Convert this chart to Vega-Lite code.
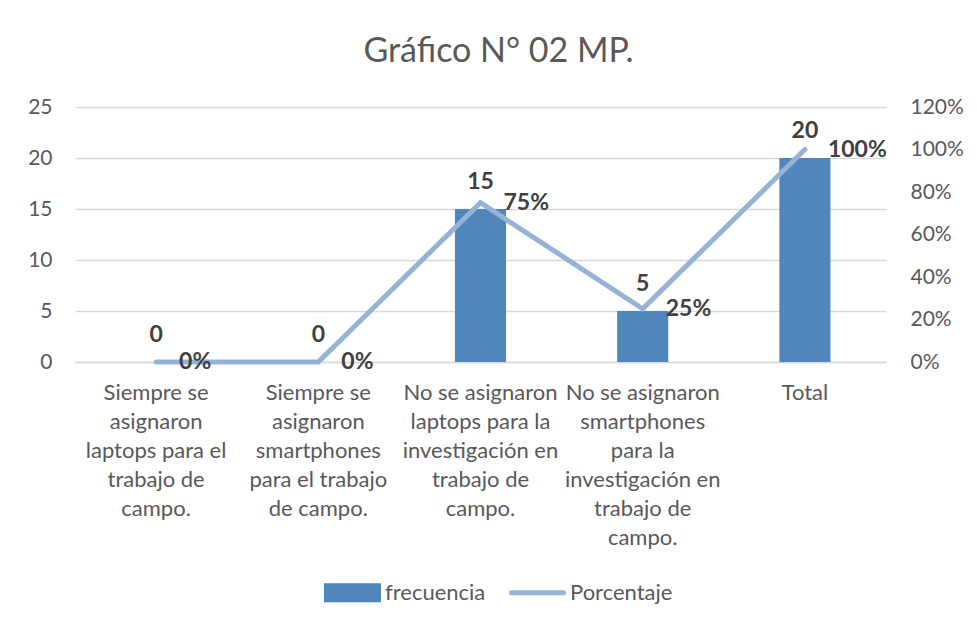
{
  "$schema": "https://vega.github.io/schema/vega-lite/v6.json",
  "width": 811,
  "height": 255,
  "autosize": {"type": "none"},
  "padding": {"left": 75, "top": 107, "right": 91, "bottom": 264},
  "background": "white",
  "title": {
    "text": "Gráfico N° 02 MP.",
    "font": "Lato",
    "fontSize": 34,
    "fontWeight": "normal",
    "color": "#595959",
    "anchor": "middle",
    "baseline": "alphabetic",
    "offset": 0,
    "dx": 18
  },
  "config": {
    "font": "Lato",
    "view": {"stroke": null},
    "axis": {
      "labelFont": "Lato",
      "labelFontSize": 21,
      "labelColor": "#595959",
      "ticks": false,
      "domain": false,
      "title": null
    }
  },
  "data": {
    "values": [
      {"cat": "Siempre se|asignaron|laptops para el|trabajo de|campo.", "frecuencia": 0, "porcentaje": 0},
      {"cat": "Siempre se|asignaron|smartphones|para el trabajo|de campo.", "frecuencia": 0, "porcentaje": 0},
      {"cat": "No se asignaron|laptops para la|investigación en|trabajo de|campo.", "frecuencia": 15, "porcentaje": 0.75},
      {"cat": "No se asignaron|smartphones|para la|investigación en|trabajo de|campo.", "frecuencia": 5, "porcentaje": 0.25},
      {"cat": "Total", "frecuencia": 20, "porcentaje": 1.0}
    ]
  },
  "encoding": {
    "x": {
      "field": "cat",
      "type": "nominal",
      "sort": null,
      "scale": {"paddingInner": 0, "paddingOuter": 0},
      "axis": {
        "labelAngle": 0,
        "labelExpr": "split(datum.label, '|')",
        "labelLineHeight": 29,
        "labelBaseline": "top",
        "labelPadding": 20,
        "labelLimit": 0,
        "labelFontSize": 22,
        "domain": true,
        "domainColor": "#D9D9D9",
        "domainWidth": 1.5
      }
    }
  },
  "layer": [
    {
      "mark": {"type": "bar", "width": {"band": 0.315}},
      "encoding": {
        "y": {
          "field": "frecuencia",
          "type": "quantitative",
          "scale": {"domain": [0, 25]},
          "axis": {
            "values": [0, 5, 10, 15, 20, 25],
            "grid": true,
            "gridColor": "#D9D9D9",
            "gridWidth": 1.5,
            "labelPadding": 23
          }
        },
        "color": {
          "datum": "frecuencia",
          "type": "nominal",
          "scale": {"domain": ["frecuencia", "Porcentaje"], "range": ["#4F87BC", "#95B3D7"]},
          "legend": {
            "orient": "none",
            "legendX": 249,
            "legendY": 457,
            "direction": "horizontal",
            "title": null,
            "labelFont": "Lato",
            "labelFontSize": 22,
            "labelColor": "#595959",
            "labelOffset": 4,
            "columnPadding": 15,
            "symbolSize": 2704,
            "encode": {
              "symbols": {
                "update": {
                  "shape": {"signal": "datum.value === 'frecuencia' ? 'M-1,-0.27H1V0.27H-1Z' : 'M-1,-0.27M-1,0H1M1,0.27'"},
                  "fill": {"signal": "datum.value === 'frecuencia' ? '#4F87BC' : 'transparent'"},
                  "stroke": {"signal": "datum.value === 'frecuencia' ? 'transparent' : '#95B3D7'"},
                  "strokeWidth": {"value": 5},
                  "strokeCap": {"value": "round"},
                  "opacity": {"value": 1}
                }
              }
            }
          }
        }
      }
    },
    {
      "mark": {"type": "line", "strokeWidth": 5, "strokeCap": "round", "strokeJoin": "miter"},
      "encoding": {
        "y": {
          "field": "porcentaje",
          "type": "quantitative",
          "scale": {"domain": [0, 1.2]},
          "axis": {
            "orient": "right",
            "format": ".0%",
            "values": [0, 0.2, 0.4, 0.6, 0.8, 1.0, 1.2],
            "grid": false,
            "labelPadding": 24
          }
        },
        "color": {"datum": "Porcentaje", "type": "nominal"}
      }
    },
    {
      "mark": {"type": "text", "dy": -27, "fontSize": 23, "fontWeight": "bold", "color": "#404040", "baseline": "middle"},
      "encoding": {
        "y": {"field": "frecuencia", "type": "quantitative", "scale": {"domain": [0, 25]}, "axis": null},
        "text": {"field": "frecuencia", "type": "quantitative"}
      }
    },
    {
      "mark": {"type": "text", "dx": 23, "align": "left", "fontSize": 23, "fontWeight": "bold", "color": "#404040", "baseline": "middle"},
      "encoding": {
        "y": {"field": "porcentaje", "type": "quantitative", "scale": {"domain": [0, 1.2]}, "axis": null},
        "text": {"field": "porcentaje", "type": "quantitative", "format": ".0%"}
      }
    }
  ],
  "resolve": {"scale": {"y": "independent"}}
}
